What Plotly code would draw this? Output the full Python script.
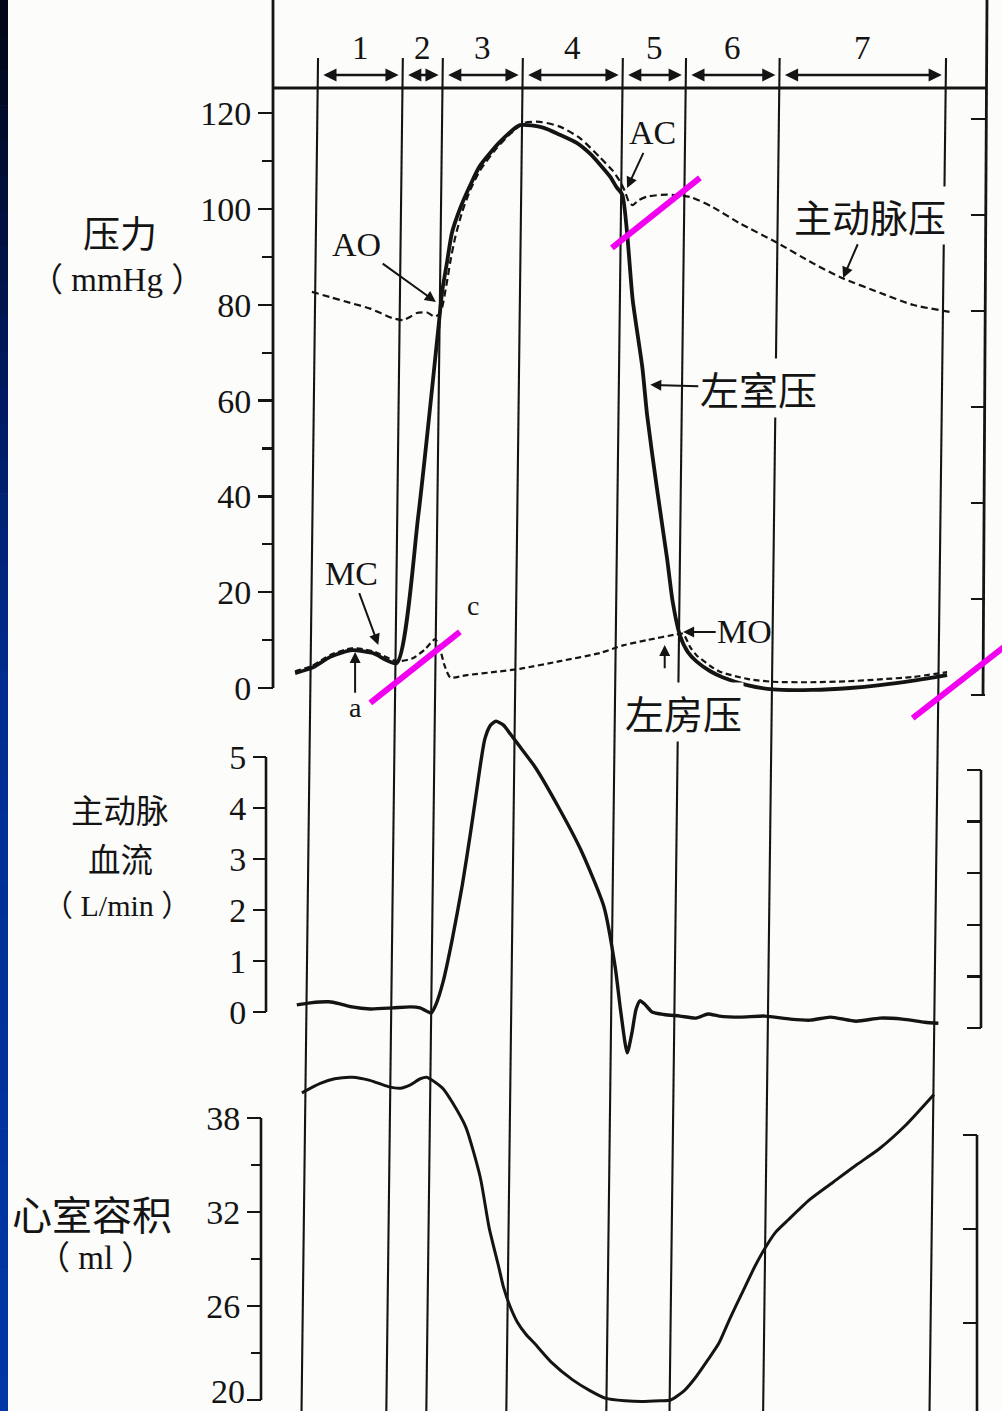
import plotly.graph_objects as go

# ---------------- data ----------------
# Phase boundaries of one cardiac cycle (ms from the start of phase 1)
phase_bounds = [0, 106, 156, 256, 381, 460, 577, 785]
phase_labels = ["1", "2", "3", "4", "5", "6", "7"]

# Left ventricular pressure (mmHg)
lv_t = [-23, -2, 21, 48, 74, 104, 131, 156, 161, 167, 173, 183, 196, 208, 233, 258, 287, 308,
        329, 346, 358, 371, 379, 386, 392, 399, 411, 417, 429, 442, 449, 458, 468, 479, 496, 512,
        542, 574, 624, 671, 708, 752, 792]
lv_p = [3.1, 4.2, 6.5, 7.9, 7.3, 5.2, 36, 75, 83, 89, 95, 100, 105, 109, 114, 117.5, 117, 115.5,
        113.8, 111.5, 109.3, 106.7, 104.5, 103, 95, 81, 67, 57, 42, 27, 18, 11, 7.5, 5.5, 3.5, 2.2,
        0.6, -0.3, -0.4, 0, 0.6, 1.6, 2.7]

# Aortic pressure (mmHg)
ao_t = [-2, 21, 46, 71, 99, 112, 121, 129, 142, 152, 159, 166, 171, 177, 186, 196, 208, 227, 246,
        264, 283, 308, 333, 358, 374, 383, 389, 394, 399, 406, 417, 442, 471, 499, 533, 579, 624,
        658, 708, 749, 796]
ao_p = [82.7, 81.6, 80.4, 79.2, 77.2, 76.8, 77.5, 78.3, 78.4, 77.5, 78.5, 84, 89, 94, 99.5, 104,
        108, 112.3, 115.7, 118.0, 118.2, 117.2, 114.8, 110.8, 108.0, 105.8, 103.8, 101.6, 100.8,
        101.8, 102.6, 103, 102.5, 100.4, 97, 93, 88.7, 85.8, 82.5, 80, 78.5]

# Left atrial pressure (mmHg)
la_t = [-23, -2, 21, 48, 74, 104, 124, 139, 152, 158, 164, 171, 192, 229, 258, 308, 358, 387, 417,
        454, 462, 471, 479, 496, 508, 542, 574, 621, 667, 708, 749, 792]
la_p = [3.5, 4.6, 6.9, 8.3, 7.7, 5.6, 6.2, 8.0, 10.2, 8.2, 4.6, 2.2, 2.7, 3.4, 4.0, 5.6, 7.3, 8.9,
        10, 11.2, 11.3, 8.5, 6.8, 4.6, 3.4, 1.9, 1.3, 1.2, 1.4, 1.8, 2.3, 3.3]

# Aortic blood flow (L/min)
flow_t = [-14, 3, 26, 40, 55, 78, 106, 128, 140, 154, 160, 169, 180, 193, 203, 210, 216, 221, 228,
          235, 244, 253, 265, 284, 313, 341, 370, 384, 391, 399, 405, 410, 415, 421, 430, 445, 465,
          485, 500, 514, 540, 571, 603, 628, 653, 685, 715, 743, 771, 788]
flow_v = [0.14, 0.18, 0.2, 0.16, 0.1, 0.06, 0.08, 0.1, 0.08, -0.02, 0.15, 0.6, 1.4, 2.5, 3.5, 4.25,
          4.9, 5.35, 5.62, 5.7, 5.63, 5.45, 5.2, 4.8, 4.02, 3.18, 2.06, 0.88, 0.0, -0.8, -0.4, 0.05,
          0.22, 0.15, 0.0, -0.05, -0.08, -0.12, -0.04, -0.08, -0.1, -0.08, -0.14, -0.16, -0.1,
          -0.18, -0.12, -0.14, -0.2, -0.22]

# Ventricular volume (ml)
vol_t = [-2, 21, 39, 61, 83, 106, 121, 133, 146, 154, 164, 174, 186, 203, 221, 232, 244, 250, 258,
         267, 278, 289, 310, 336, 358, 378, 402, 422, 446, 459, 476, 491, 506, 519, 533, 548, 564,
         577, 590, 606, 633, 662, 691, 719, 752, 788]
vol_v = [39.6, 40.2, 40.5, 40.6, 40.4, 40.0, 39.9, 40.1, 40.5, 40.6, 40.3, 39.9, 39.0, 37.4, 34.2,
         31.0, 28.5, 27.2, 26.0, 25.0, 24.2, 23.6, 22.4, 21.3, 20.6, 20.1, 19.95, 19.9, 19.95, 20.0,
         20.6, 21.5, 22.6, 23.6, 25.2, 26.8, 28.5, 29.7, 30.7, 31.5, 32.8, 33.9, 35.0, 36.0, 37.5,
         39.5]

# Axis ticks
pressure_ticks = [0, 20, 40, 60, 80, 100, 120]
pressure_minor = [10, 30, 50, 70, 90, 110]
flow_ticks = [0, 1, 2, 3, 4, 5]
vol_ticks = [20, 26, 32, 38]
vol_minor = [23, 29, 35]
vol_right_ticks = [26, 32, 38]

# ---------------- geometry & style ----------------
W, H = 1002, 1411
MS_PER_PX = 1.25
LINE_TILT = 0.0122   # sideways drift of the phase lines per pixel downward
TILT_REF = 430       # pixel row where the pressure time axis is calibrated

INK = "#141414"
BG = "#fcfcfa"
MAGENTA = "#f200f0"
SERIF = "Liberation Serif, Times New Roman, serif"
CJK = "Noto Sans CJK SC, sans-serif"
MIX = "Liberation Serif, Noto Sans CJK SC, serif"
TICK_SIZE = 34


def fy(py):
    return 1 - py / H


def fx(px):
    return px / W


def t_range(origin_px):
    return [-origin_px * MS_PER_PX, (W - origin_px) * MS_PER_PX]


def v_range(ref_px, ref_val, px_per_unit, top_px, bot_px):
    return [ref_val - (bot_px - ref_px) / px_per_unit,
            ref_val + (ref_px - top_px) / px_per_unit]


def tilt_ms(py):
    return (TILT_REF - py) * LINE_TILT * MS_PER_PX


P_TOP, P_BOT = 0, 730
F_TOP, F_BOT = 700, 1065
V_TOP, V_BOT = 1065, 1411

p_range = v_range(688, 0, 4.79, P_TOP, P_BOT)
p_range_r = v_range(695, 0, 4.80, P_TOP, P_BOT)
f_range = v_range(1012, 0, 51.0, F_TOP, F_BOT)
f_range_r = v_range(1028, 0, 51.6, F_TOP, F_BOT)
v_range_l = v_range(1400, 20, 15.67, V_TOP, V_BOT)
v_range_r = v_range(1135, 38, 15.67, V_TOP, V_BOT)

tickfont = dict(family=SERIF, size=TICK_SIZE, color=INK)

fig = go.Figure()

spline = dict(shape="spline", smoothing=0.6)

# Pressure panel
fig.add_trace(go.Scatter(x=la_t, y=la_p, xaxis="x", yaxis="y", mode="lines",
                         line=dict(color=INK, width=2.2, dash="6px,3.5px", **spline)))
fig.add_trace(go.Scatter(x=ao_t, y=ao_p, xaxis="x", yaxis="y", mode="lines",
                         line=dict(color=INK, width=2.2, dash="7px,4px", **spline)))
fig.add_trace(go.Scatter(x=lv_t, y=lv_p, xaxis="x", yaxis="y", mode="lines",
                         line=dict(color=INK, width=3.8, **spline)))
# Aortic flow panel
fig.add_trace(go.Scatter(x=flow_t, y=flow_v, xaxis="x2", yaxis="y2", mode="lines",
                         line=dict(color=INK, width=3.4, **spline)))
# Ventricular volume panel
fig.add_trace(go.Scatter(x=vol_t, y=vol_v, xaxis="x3", yaxis="y3", mode="lines",
                         line=dict(color=INK, width=3.0, **spline)))
# carriers for the right-hand scales
for ya, xa in (("y4", "x"), ("y5", "x2"), ("y6", "x3")):
    fig.add_trace(go.Scatter(x=[None], y=[None], xaxis=xa, yaxis=ya, mode="lines",
                             hoverinfo="skip"))


def left_axis(domain, rng, pos, tickvals, minor_vals=None, ticklen=15, ticktext=None):
    ax = dict(domain=domain, range=rng, anchor="free", position=pos, side="left",
              showline=False, showgrid=False, zeroline=False, ticks="outside",
              ticklen=ticklen, tickwidth=2.5, tickcolor=INK, tickvals=tickvals,
              ticktext=ticktext or [str(v) for v in tickvals], tickfont=tickfont,
              fixedrange=True)
    if minor_vals:
        ax["minor"] = dict(tickvals=minor_vals, ticks="outside", ticklen=ticklen - 4,
                           tickwidth=2.2, tickcolor=INK, showgrid=False)
    return ax


def right_axis(over, rng, pos, tickvals):
    return dict(overlaying=over, range=rng, anchor="free", position=pos, side="right",
                showline=False, showgrid=False, zeroline=False, ticks="inside",
                ticklen=14, tickwidth=2.5, tickcolor=INK, tickvals=tickvals,
                showticklabels=False, fixedrange=True)


xcommon = dict(visible=False, showgrid=False, zeroline=False, fixedrange=True, domain=[0, 1])

# the lowest volume label sits on the page edge; it is placed separately below
vol_text = ["" if v == vol_ticks[0] else str(v) for v in vol_ticks]

fig.update_layout(
    width=W, height=H, autosize=False,
    margin=dict(l=0, r=0, t=0, b=0, pad=0),
    paper_bgcolor=BG, plot_bgcolor="rgba(0,0,0,0)",
    showlegend=False,
    xaxis=dict(range=t_range(313.5), anchor="y", **xcommon),
    xaxis2=dict(range=t_range(308.0), anchor="y2", **xcommon),
    xaxis3=dict(range=t_range(303.5), anchor="y3", **xcommon),
    yaxis=left_axis([fy(P_BOT), fy(P_TOP)], p_range, fx(273), pressure_ticks, pressure_minor),
    yaxis2=left_axis([fy(F_BOT), fy(F_TOP)], f_range, fx(266), flow_ticks, ticklen=13),
    yaxis3=left_axis([fy(V_BOT), fy(V_TOP)], v_range_l, fx(261), vol_ticks, vol_minor,
                     ticklen=14, ticktext=vol_text),
    yaxis4=right_axis("y", p_range_r, fx(985), pressure_ticks),
    yaxis5=right_axis("y2", f_range_r, fx(981), flow_ticks),
    yaxis6=right_axis("y3", v_range_r, fx(977), vol_right_ticks),
)

shapes = []

# dark strip along the left edge
n_bands = 40
stops = [(0, (1, 4, 18)), (350, (0, 24, 90)), (700, (0, 45, 145)), (1411, (0, 55, 165))]


def strip_color(py):
    for (y0, c0), (y1, c1) in zip(stops[:-1], stops[1:]):
        if y0 <= py <= y1:
            f = (py - y0) / (y1 - y0)
            return "rgb({},{},{})".format(*[round(a + (b - a) * f) for a, b in zip(c0, c1)])
    return "rgb(0,55,165)"


for i in range(n_bands):
    y0 = H * i / n_bands
    y1 = H * (i + 1) / n_bands
    shapes.append(dict(type="rect", xref="paper", yref="paper", x0=0, x1=fx(8),
                       y0=fy(y1), y1=fy(y0) + 0.0005, line=dict(width=0),
                       fillcolor=strip_color((y0 + y1) / 2), layer="below"))

# phase boundary lines through all three panels
for tb in phase_bounds:
    shapes.append(dict(type="line", xref="x", yref="paper",
                       x0=tb + tilt_ms(H), y0=0, x1=tb + tilt_ms(58), y1=fy(58),
                       line=dict(color=INK, width=2.1), layer="below"))

# frame of the pressure panel and top phase band
band_y = (688 - 88) / 4.79
shapes += [
    dict(type="line", xref="paper", yref="y", x0=fx(273), x1=fx(273), y0=0, y1=p_range[1],
         line=dict(color=INK, width=2.8)),
    dict(type="line", xref="paper", yref="y4", x0=fx(983), x1=fx(987), y0=0, y1=p_range_r[1],
         line=dict(color=INK, width=2.8)),
    dict(type="line", xref="paper", yref="y", x0=fx(273), x1=fx(987), y0=band_y, y1=band_y,
         line=dict(color=INK, width=3)),
    dict(type="line", xref="paper", yref="y2", x0=fx(266), x1=fx(266), y0=0, y1=5,
         line=dict(color=INK, width=2.6)),
    dict(type="line", xref="paper", yref="y5", x0=fx(981), x1=fx(981), y0=0, y1=5,
         line=dict(color=INK, width=2.6)),
    dict(type="line", xref="paper", yref="y3", x0=fx(261), x1=fx(261), y0=20, y1=38,
         line=dict(color=INK, width=2.6)),
    dict(type="line", xref="paper", yref="y6", x0=fx(977), x1=fx(977), y0=v_range_r[0], y1=38,
         line=dict(color=INK, width=2.6)),
]

# magenta highlight strokes
magenta_strokes = [((71, -3.1), (183, 11.7)), ((373, 91.9), (483, 106.5)),
                   ((749, -6.3), (871, 9.6))]
for (xa, ya), (xb, yb) in magenta_strokes:
    shapes.append(dict(type="line", xref="x", yref="y", x0=xa, y0=ya, x1=xb, y1=yb,
                       line=dict(color=MAGENTA, width=6), layer="above"))

annotations = []

# phase numbers and double-headed arrows above the pressure panel
num_y = (688 - 48) / 4.79
arr_y = (688 - 75) / 4.79
for i, lab in enumerate(phase_labels):
    a, b = phase_bounds[i], phase_bounds[i + 1]
    annotations.append(dict(x=(a + b) / 2 + tilt_ms(48), y=num_y, xref="x", yref="y",
                            text=lab, showarrow=False, xanchor="center", yanchor="middle",
                            font=dict(family=SERIF, size=33, color=INK)))
    annotations.append(dict(x=b + tilt_ms(75) - 5, y=arr_y, ax=a + tilt_ms(75) + 5, ay=arr_y,
                            xref="x", yref="y", axref="x", ayref="y", text="",
                            showarrow=True, arrowhead=2, arrowside="end+start",
                            arrowsize=1.1, arrowwidth=2.4, arrowcolor=INK))

# lowest volume tick label, resting on the bottom edge of the page
annotations.append(dict(x=fx(246), y=0, xref="paper", yref="paper", text=str(vol_ticks[0]),
                        xanchor="right", yanchor="bottom", showarrow=False,
                        font=dict(family=SERIF, size=TICK_SIZE, color=INK), borderpad=0))

# panel titles
titles = [("压力", 120, 232, CJK, 37), ("（ mmHg ）", 117, 280, MIX, 33),
          ("主动脉", 120, 809, CJK, 32.5), ("血流", 120, 857, CJK, 32.5),
          ("（ L/min ）", 117, 905, MIX, 30),
          ("心室容积", 92, 1213, CJK, 40), ("（ ml ）", 95, 1258, MIX, 33)]
for txt, px, py, fam, size in titles:
    annotations.append(dict(x=fx(px), y=fy(py), xref="paper", yref="paper", text=txt,
                            xanchor="center", yanchor="middle",
                            showarrow=False, font=dict(family=fam, size=size, color=INK)))


def pointer(text, tx, ty, hx, hy, fam=SERIF, size=34, bg=None):
    d = dict(x=hx, y=hy, ax=tx, ay=ty, xref="x", yref="y", axref="x", ayref="y",
             text=text, showarrow=True, arrowhead=2, arrowsize=1.1, arrowwidth=2,
             arrowcolor=INK, standoff=0, font=dict(family=fam, size=size, color=INK))
    if bg:
        d["bgcolor"] = bg
    return d


annotations += [
    pointer("AO", 54, 92.5, 153, 80.6),
    pointer("AC", 424, 115.9, 392, 104.4),
    pointer("主动脉压", 696, 98.7, 662, 85.6, CJK, 38, BG),
    pointer("左室压", 556, 62.6, 421, 63.3, CJK, 39, BG),
    pointer("MO", 539, 11.7, 462, 11.7),
    pointer("MC", 48, 24.0, 81, 9.0),
    pointer("", 439, 3.8, 439, 9.0),
    pointer("", 52, -1.3, 52, 7.5),
    dict(x=463, y=-5.0, xref="x", yref="y", text="左房压", showarrow=False, bgcolor=BG,
         font=dict(family=CJK, size=39, color=INK)),
    dict(x=52, y=-4.0, xref="x", yref="y", text="a", showarrow=False,
         font=dict(family=SERIF, size=28, color=INK)),
    dict(x=199, y=17.3, xref="x", yref="y", text="c", showarrow=False,
         font=dict(family=SERIF, size=28, color=INK)),
]

fig.update_layout(shapes=shapes, annotations=annotations)

fig.write_html("out.html", config={"displayModeBar": False, "staticPlot": True})
